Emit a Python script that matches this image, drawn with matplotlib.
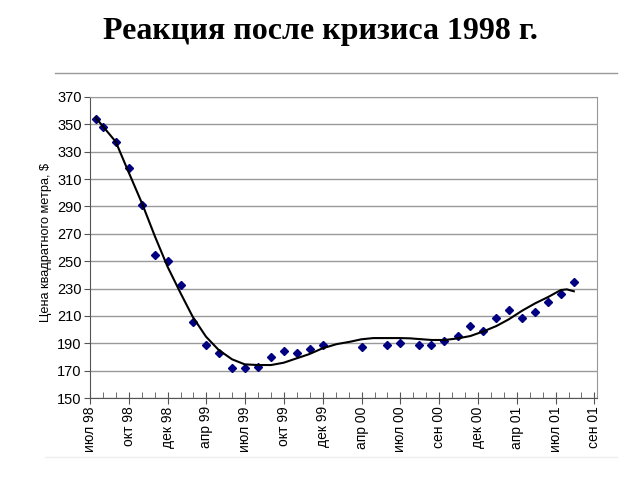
import matplotlib
matplotlib.use("Agg")
import matplotlib.pyplot as plt
from matplotlib.lines import Line2D
from matplotlib.ticker import MultipleLocator

# month index along the category axis (one step = one month)
month_pos = [0.45, 1, 2, 3, 4, 5, 6, 7, 8, 9, 10, 11, 12, 13, 14, 15, 16, 17, 18,
             21, 23, 24, 25.4, 26.4, 27.4, 28.45, 29.4, 30.4, 31.4, 32.4, 33.4,
             34.4, 35.4, 36.4, 37.4]
prices = [354, 348, 337, 318, 291, 254.5, 250, 232.5, 205.5, 189, 183, 172, 172,
          173, 180, 184, 183, 186, 189, 187, 189, 190.5, 189, 189, 192, 195,
          202.5, 199, 208.5, 214.5, 208.5, 213, 220.5, 226, 235]

trend_pos = [0.44, 1.99, 2.97, 4.02, 5.03, 6.0, 7.01, 7.94, 8.97, 9.95, 10.98,
             11.96, 12.97, 14.0, 14.98, 15.98, 16.96, 17.97, 19.08, 20.1, 20.98,
             21.9, 22.97, 23.95, 24.75, 25.42, 26.43, 27.43, 28.46, 29.41, 30.42,
             31.42, 32.38, 33.41, 34.42, 35.42, 36.4, 36.87, 37.41]
trend = [354.9, 337.3, 315.4, 292.3, 267.9, 245.9, 226.5, 209.4, 194.8, 185.1,
         178.3, 174.6, 174.1, 174.1, 175.8, 179.0, 182.1, 186.3, 189.4, 191.1,
         192.9, 193.8, 193.8, 193.8, 193.6, 193.1, 192.4, 192.4, 193.6, 195.3,
         198.7, 202.6, 207.5, 213.8, 219.2, 223.8, 228.9, 229.4, 228.0]

tick_labels = ["июл 98", "окт 98", "дек 98", "апр 99", "июл 99", "окт 99",
               "дек 99", "апр 00", "июл 00", "сен 00", "дек 00", "апр 01",
               "июл 01", "сен 01"]

plt.rcParams['font.family'] = ['Liberation Sans', 'DejaVu Sans']

fig = plt.figure(figsize=(6.4, 4.8), dpi=100)

fig.text(0.5, 1 - 32 / 480, "Реакция после кризиса 1998 г.", ha='center', va='center',
         fontsize=23, fontweight='bold', family=['Liberation Serif', 'DejaVu Serif'])

# thin frame lines of the slide
fig.add_artist(Line2D([55 / 640, 617 / 640], [1 - 73 / 480, 1 - 73 / 480],
                      color='#999999', lw=1, transform=fig.transFigure))
fig.add_artist(Line2D([45 / 640, 617 / 640], [1 - 457 / 480, 1 - 457 / 480],
                      color='#eeeeee', lw=1, transform=fig.transFigure))

ax = fig.add_axes([90 / 640, 1 - 398 / 480, 507 / 640, 301 / 480])
ax.set_xlim(0, 39.2)
ax.set_ylim(150, 370)
ax.set_yticks(range(150, 371, 20))
ax.yaxis.grid(True, color='#999999', lw=1)
ax.set_axisbelow(True)

ax.set_xticks(range(0, 40, 3))
ax.set_xticklabels(tick_labels, rotation=90, fontsize=10)
ax.xaxis.set_minor_locator(MultipleLocator(1))
ax.tick_params(axis='x', which='major', direction='inout', length=8, color='#555555', pad=2)
ax.tick_params(axis='x', which='minor', direction='in', length=4, color='#555555')
ax.tick_params(axis='y', direction='out', length=4, color='#555555', labelsize=10.5, pad=2)

for side in ['left', 'bottom']:
    ax.spines[side].set_color('#555555')
for side in ['top', 'right']:
    ax.spines[side].set_color('#999999')

ax.plot(month_pos, prices, linestyle='none', marker='D', markersize=4,
        color='#000080')
ax.plot(trend_pos, trend, color='black', lw=1.5)

fig.text(46 / 640, 1 - 242 / 480, "Цена квадратного метра, $", rotation=90,
         ha='center', va='center', fontsize=9.2)

fig.savefig("out.png", dpi=100)
